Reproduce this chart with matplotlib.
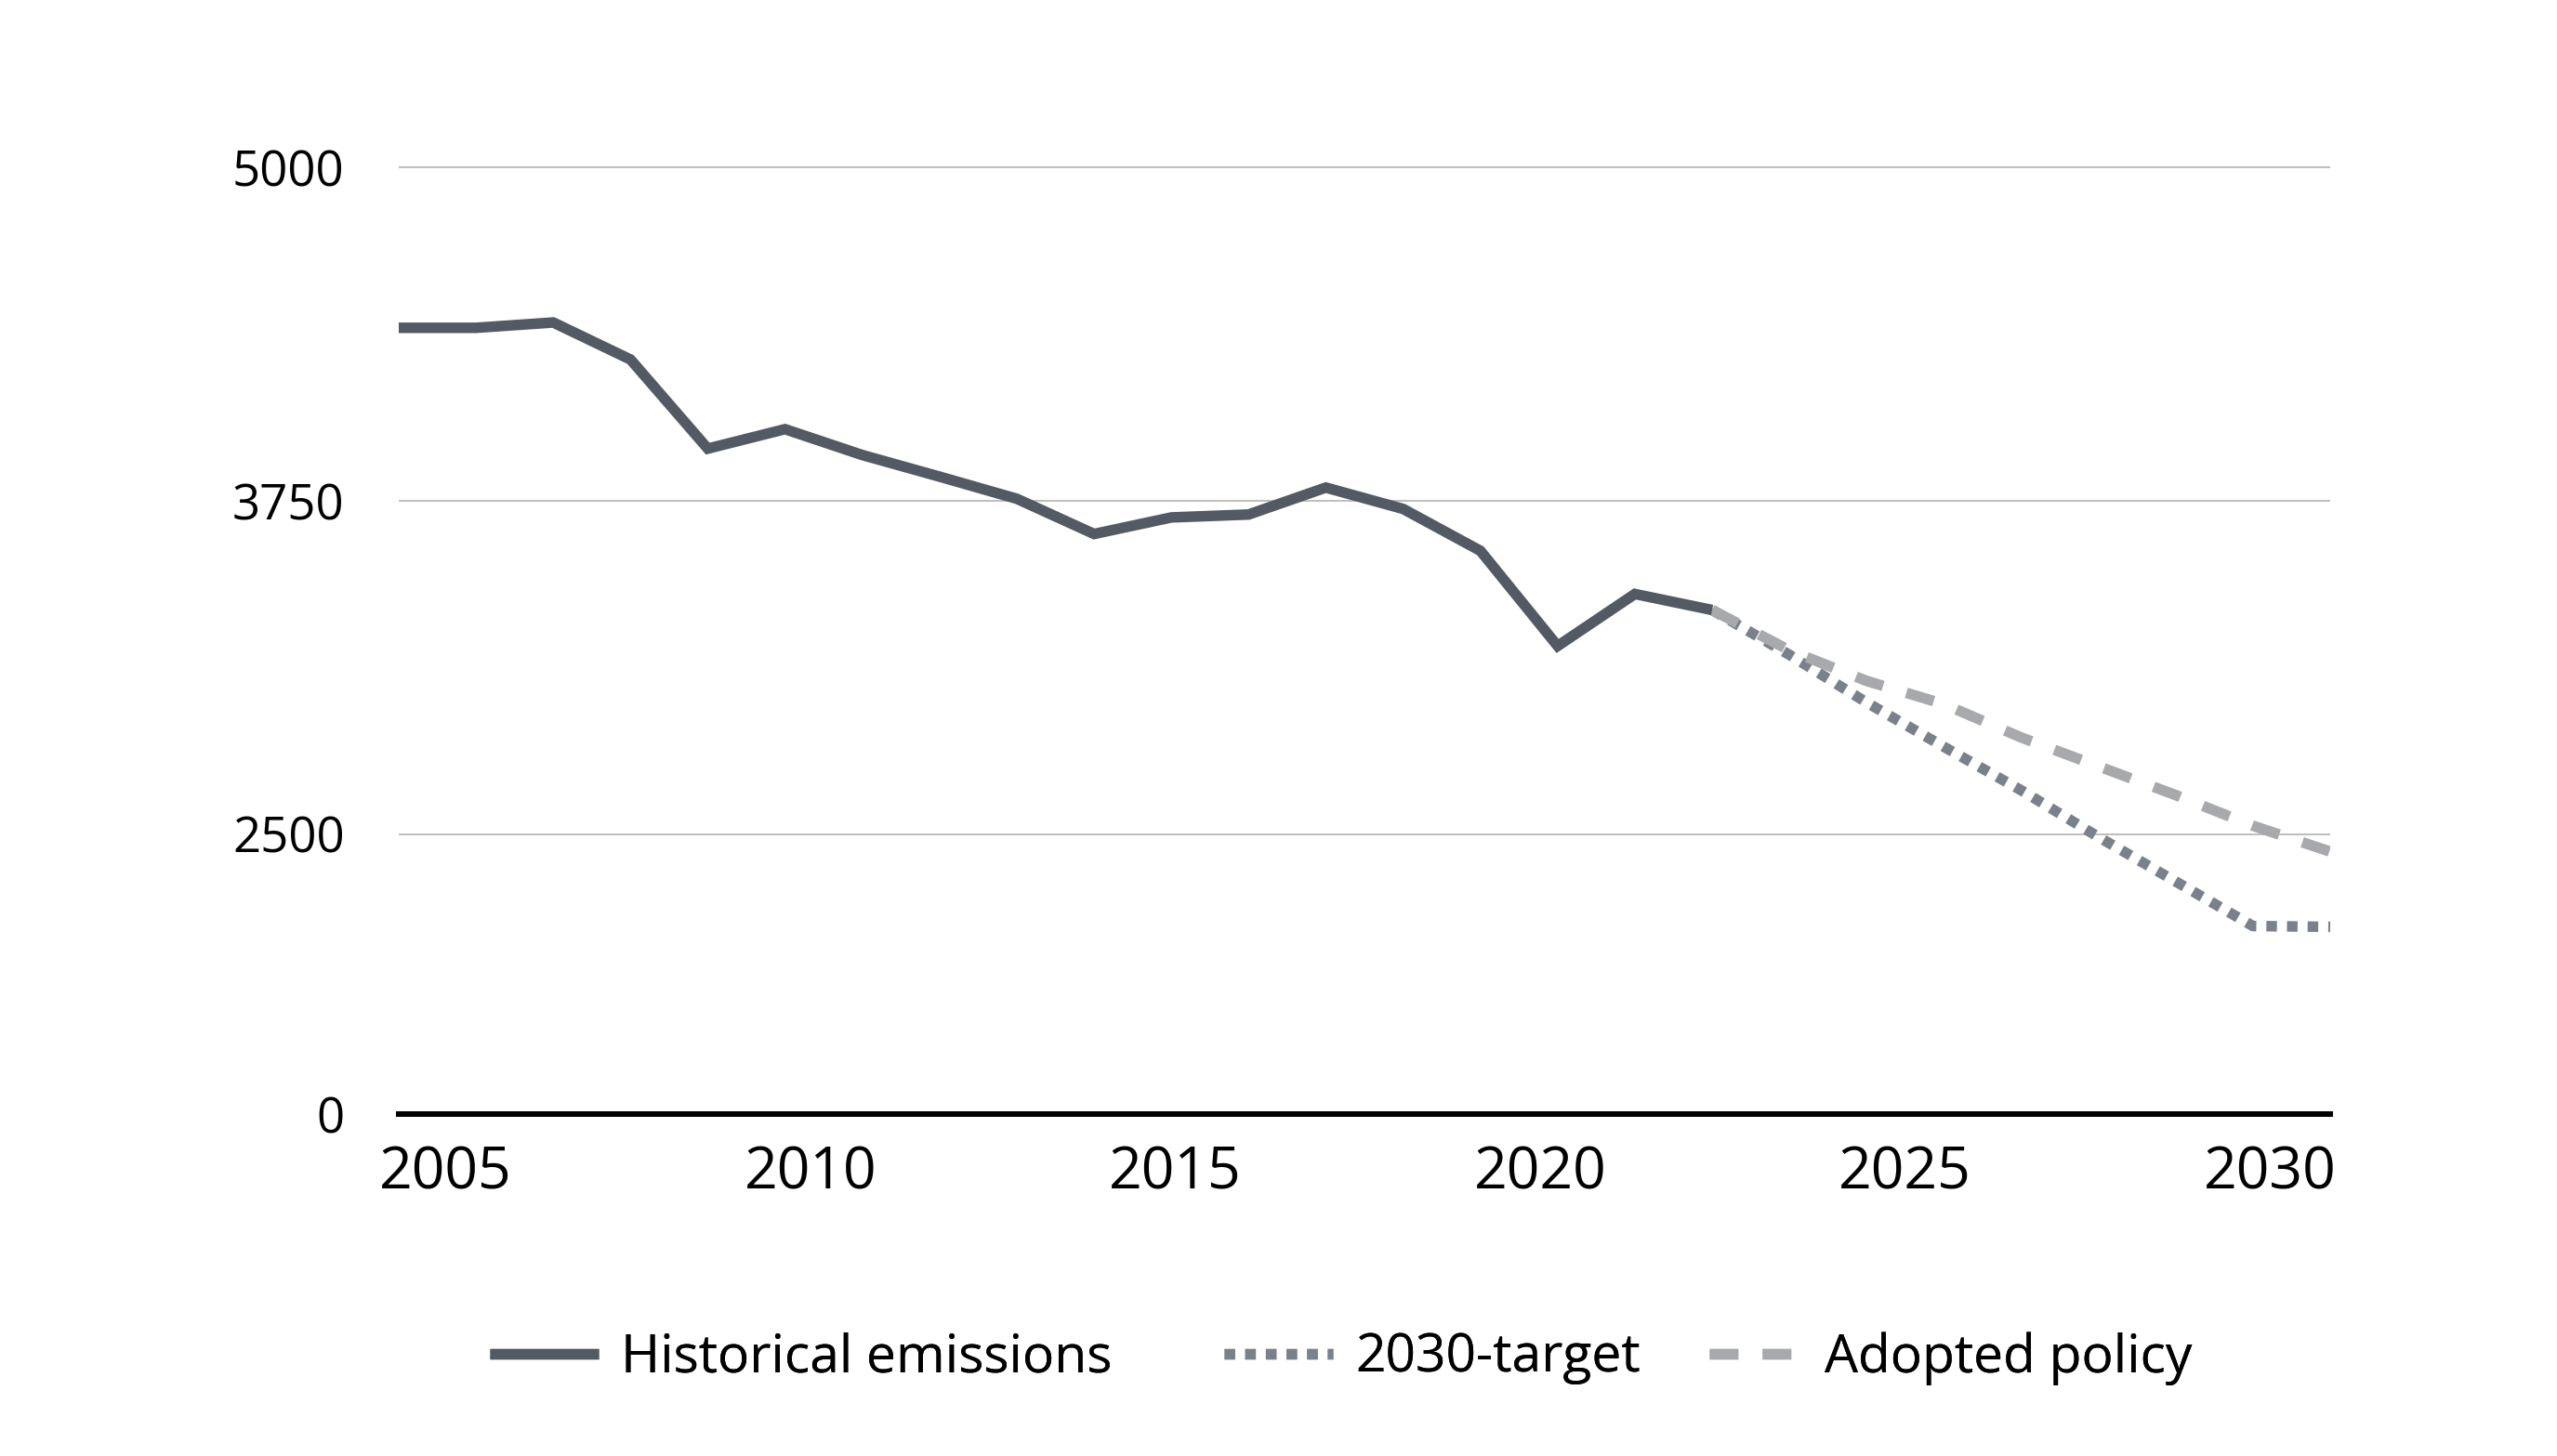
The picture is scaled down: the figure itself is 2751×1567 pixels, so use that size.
import matplotlib
matplotlib.use("Agg")
import matplotlib.pyplot as plt
from matplotlib.lines import Line2D
import numpy as np

plt.rcParams['font.family'] = ['Open Sans', 'DejaVu Sans']

# ---- data ----
hist_years = list(range(2005, 2023))
hist_values = [4398, 4398, 4418, 4279, 3945, 4018, 3921, 3840, 3757, 3625,
               3687, 3698, 3799, 3719, 3562, 3205, 3400, 3340]

proj_years = list(range(2022, 2031))
target_values = [3340, 3172, 2993, 2827, 2664, 2489, 2322, 2155, 2152]
policy_values = [3340, 3189, 3074, 2987, 2862, 2754, 2646, 2531, 2434]

ytick_values = [1450, 2500, 3750, 5000]
ytick_labels = ["0", "2500", "3750", "5000"]
xtick_labels = ["2005", "2010", "2015", "2020", "2025", "2030"]

series_labels = ["Historical emissions", "2030-target", "Adopted policy"]

# ---- styling ----
c_hist = "#535a63"
c_target = "#7b818b"
c_policy = "#a7a9ad"

W, H = 2751, 1567
fig = plt.figure(figsize=(W / 100, H / 100), dpi=100)
left, right = 429 / W, 2507 / W
bottom = 1 - 1199 / H
top = 1 - 151.3 / H
ax = fig.add_axes([left, bottom, right - left, top - bottom])

lw = 8.2
dot_style = (0, (1.0, 0.95))
dash_style = (0, (2.7, 2.3))
ax.plot(proj_years, target_values, color=c_target, lw=lw,
        linestyle=dot_style, dash_capstyle='butt', zorder=3)
ax.plot(proj_years, policy_values, color=c_policy, lw=lw,
        linestyle=dash_style, dash_capstyle='butt', zorder=4)
ax.plot(hist_years, hist_values, color=c_hist, lw=lw,
        solid_capstyle='butt', solid_joinstyle='miter', zorder=5)

ax.set_xlim(2005, 2030)
ax.set_ylim(1450, 5100)

ax.set_yticks(ytick_values)
ax.set_yticklabels(ytick_labels)
ax.yaxis.grid(True, color="#c0c0c0", lw=1.5)
ax.set_axisbelow(True)

xt = np.linspace(2005.61, 2029.22, len(xtick_labels))
ax.set_xticks(xt)
ax.set_xticklabels(xtick_labels)

for s in ["left", "right", "top"]:
    ax.spines[s].set_visible(False)
ax.spines["bottom"].set_color("black")
ax.spines["bottom"].set_linewidth(4.3)
ax.spines["bottom"].set_zorder(6)

ax.tick_params(axis="y", length=0, pad=42, labelsize=38, labelcolor="black")
ax.tick_params(axis="x", length=0, pad=24, labelsize=45, labelcolor="black")

# ---- legend: three separate entries ----
handles = [
    Line2D([], [], color=c_hist, lw=lw, solid_capstyle='butt'),
    Line2D([], [], color=c_target, lw=lw, linestyle=dot_style, dash_capstyle='butt'),
    Line2D([], [], color=c_policy, lw=lw, linestyle=dash_style, dash_capstyle='butt'),
]
starts = [527, 1317, 1839]
hlens = [2.06, 2.06, 1.7]
pads = [0.42, 0.42, 0.47]
ly = 1 - 1462 / H
for h, lab, sx, hl, tp in zip(handles, series_labels, starts, hlens, pads):
    leg = fig.legend([h], [lab], loc="center left", bbox_to_anchor=(sx / W, ly),
                     frameon=False, fontsize=41,
                     handlelength=hl, handletextpad=tp, borderpad=0, borderaxespad=0)
    fig.add_artist(leg)

fig.savefig("out.png", dpi=100, facecolor="white")
